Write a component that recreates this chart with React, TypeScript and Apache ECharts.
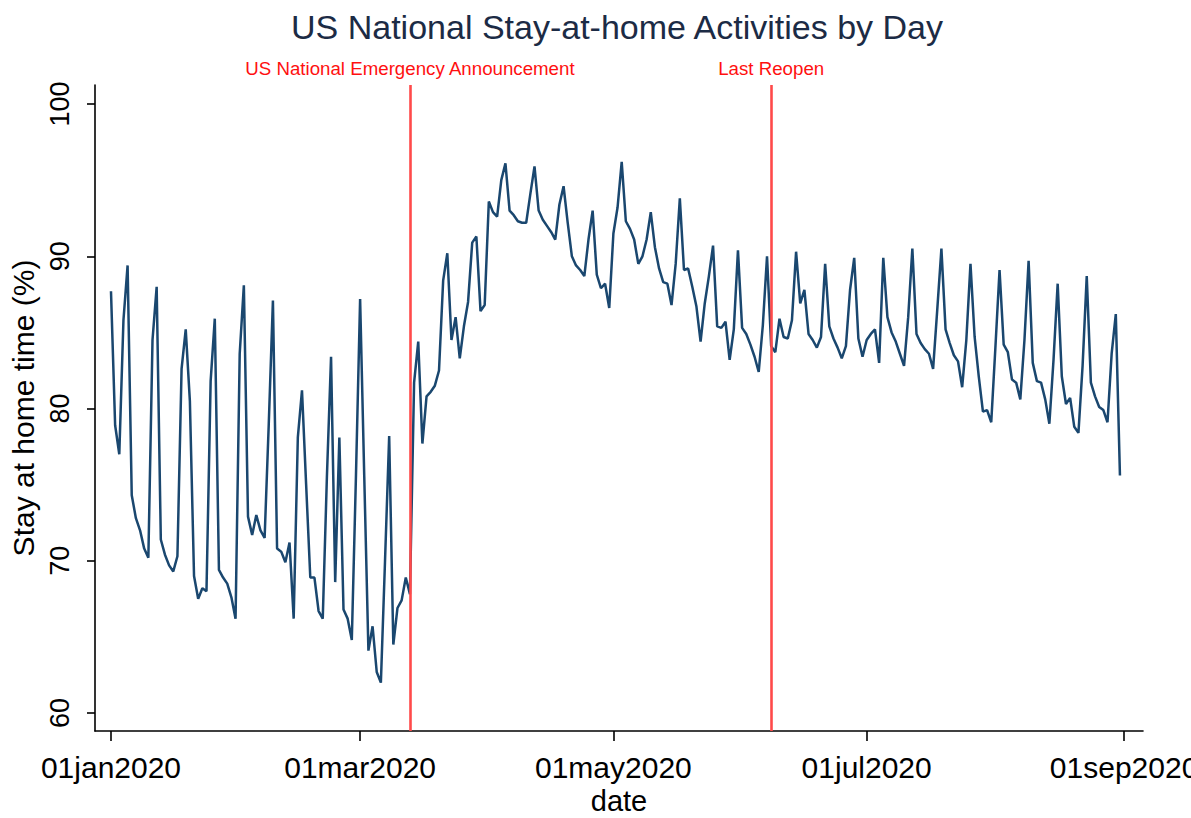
import React, { useEffect, useRef } from "react";
import * as echarts from "echarts";

// Daily share of time spent at home, US national average, from 1 Jan 2020.
const START_DATE = "2020-01-01";
const stayHome: number[] = [
  // January
  87.7, 78.9, 77.0, 85.8, 89.4, 74.3, 72.8, 72.0, 70.8, 70.2,
  84.5, 88.0, 71.4, 70.4, 69.7, 69.3, 70.3, 82.6, 85.2, 80.5,
  69.0, 67.5, 68.2, 68.0, 81.8, 85.9, 69.4, 68.9, 68.5, 67.6,
  66.2,
  // February
  83.6, 88.1, 72.9, 71.7, 73.0, 72.0, 71.5, 79.0, 87.1, 70.8,
  70.6, 69.9, 71.2, 66.2, 78.1, 81.2, 75.0, 68.9, 68.9, 66.7,
  66.2, 75.5, 83.4, 68.6, 78.1, 66.8, 66.2, 64.8, 75.6,
  // March
  87.2, 75.5, 64.1, 65.7, 62.7, 62.0, 70.0, 78.2, 64.5, 66.9,
  67.4, 68.9, 67.8, 81.7, 84.4, 77.7, 80.8, 81.1, 81.5, 82.5,
  88.4, 90.2, 84.5, 86.0, 83.3, 85.4, 87.0, 90.9, 91.3, 86.4,
  86.8,
  // April
  93.6, 92.9, 92.6, 95.0, 96.1, 93.0, 92.7, 92.3, 92.2, 92.2,
  94.1, 95.9, 93.0, 92.4, 92.0, 91.6, 91.1, 93.4, 94.6, 92.2,
  90.0, 89.4, 89.1, 88.7, 91.1, 93.0, 88.8, 87.9, 88.2, 86.6,
  // May
  91.5, 93.2, 96.2, 92.3, 91.8, 91.1, 89.5, 90.0, 91.1, 92.9,
  90.6, 89.2, 88.3, 88.2, 86.8, 89.5, 93.8, 89.1, 89.2, 88.0,
  86.7, 84.4, 86.9, 88.7, 90.7, 85.4, 85.3, 85.7, 83.2, 85.2,
  90.4,
  // June
  85.3, 84.9, 84.2, 83.4, 82.4, 85.5, 90.0, 84.1, 83.7, 85.9,
  84.7, 84.6, 85.8, 90.3, 86.9, 87.8, 84.9, 84.5, 84.0, 84.7,
  89.5, 85.4, 84.6, 84.0, 83.3, 84.1, 87.8, 89.9, 84.6, 83.4,
  // July
  84.5, 84.9, 85.2, 83.0, 89.9, 86.0, 85.0, 84.4, 83.6, 82.8,
  86.0, 90.5, 84.9, 84.3, 83.9, 83.6, 82.6, 86.5, 90.5, 85.2,
  84.3, 83.5, 83.1, 81.4, 84.5, 89.5, 84.7, 82.1, 79.8, 79.9,
  79.1,
  // August
  84.0, 89.1, 84.2, 83.7, 81.9, 81.7, 80.6, 84.5, 89.7, 83.0,
  81.8, 81.7, 80.6, 79.0, 83.2, 88.2, 82.1, 80.3, 80.7, 78.8,
  78.4, 82.8, 88.7, 81.7, 80.8, 80.1, 79.9, 79.1, 83.6, 86.2,
  75.6,
];

const yTicks = [60, 70, 80, 90, 100];
const xTickDates = ["2020-01-01", "2020-03-01", "2020-05-01", "2020-07-01", "2020-09-01"];
const eventDates = ["2020-03-13", "2020-06-08"];
const eventLabels = ["US National Emergency Announcement", "Last Reopen"];

const MS_DAY = 86400000;
const MONTHS = ["jan", "feb", "mar", "apr", "may", "jun", "jul", "aug", "sep", "oct", "nov", "dec"];
const dayOf = (iso: string) => Math.round((Date.parse(iso) - Date.parse(START_DATE)) / MS_DAY);
const stataDate = (day: number) => {
  const d = new Date(Date.parse(START_DATE) + Math.round(day) * MS_DAY);
  return String(d.getUTCDate()).padStart(2, "0") + MONTHS[d.getUTCMonth()] + d.getUTCFullYear();
};

const FONT = "'Liberation Sans', Arial, Helvetica, sans-serif";
const INK = "#000000";

export default function App() {
  const ref = useRef<HTMLDivElement>(null);

  useEffect(() => {
    if (!ref.current) return;
    const chart = echarts.init(ref.current, undefined, { renderer: "svg" });
    const xTickDays = xTickDates.map(dayOf);

    chart.setOption({
      animation: false,
      backgroundColor: "#ffffff",
      textStyle: { fontFamily: FONT },
      title: {
        text: "US National Stay-at-home Activities by Day",
        left: 617,
        top: 10,
        textAlign: "center",
        padding: 0,
        textStyle: { fontSize: 34, fontWeight: "normal", color: "#1c2b45", fontFamily: FONT },
      },
      grid: { left: 95, right: 48, top: 85, bottom: 87, containLabel: false, outerBoundsMode: "none" },
      xAxis: {
        type: "value",
        min: -3.85,
        max: 248.55,
        name: "date",
        nameLocation: "middle",
        nameGap: 51,
        nameTextStyle: { fontSize: 29, color: INK, fontFamily: FONT },
        splitLine: { show: false },
        axisLine: { show: true, onZero: false, lineStyle: { color: INK, width: 1.6 } },
        axisTick: { show: true, length: 10, customValues: xTickDays, lineStyle: { color: INK, width: 1.6 } },
        axisLabel: {
          customValues: xTickDays,
          formatter: (v: number) => stataDate(v),
          fontSize: 30,
          color: INK,
          margin: 21,
          fontFamily: FONT,
        },
      },
      yAxis: {
        type: "value",
        min: 58.82,
        max: 101.25,
        name: "Stay at home time (%)",
        nameLocation: "middle",
        nameRotate: 90,
        nameGap: 54,
        nameTextStyle: { fontSize: 30, color: INK, fontFamily: FONT },
        splitLine: { show: false },
        axisLine: { show: true, onZero: false, lineStyle: { color: INK, width: 1.6 } },
        axisTick: { show: true, length: 8, customValues: yTicks, lineStyle: { color: INK, width: 1.6 } },
        axisLabel: {
          customValues: yTicks,
          rotate: 90,
          fontSize: 27,
          color: INK,
          margin: 22,
          fontFamily: FONT,
        },
      },
      series: [
        {
          type: "line",
          name: "events",
          data: [],
          z: 1,
          markLine: {
            silent: true,
            symbol: ["none", "none"],
            lineStyle: { color: "#ff4a4a", width: 2.6, type: "solid" },
            label: {
              show: true,
              position: "end",
              formatter: "{b}",
              color: "#ff1010",
              fontSize: 18.7,
              distance: 7,
              fontFamily: FONT,
            },
            data: eventDates.map((d, i) => ({ xAxis: dayOf(d), name: eventLabels[i] })),
          },
        },
        {
          type: "line",
          name: "stay at home",
          z: 3,
          data: stayHome.map((v, i) => [i, v]),
          symbol: "none",
          showSymbol: false,
          lineStyle: { color: "#1a476f", width: 2.5 },
        },
      ],
    });

    return () => chart.dispose();
  }, []);

  return (
    <div
      ref={ref}
      style={{ position: "fixed", left: 0, top: 0, width: 1191, height: 818, background: "#ffffff" }}
    />
  );
}
